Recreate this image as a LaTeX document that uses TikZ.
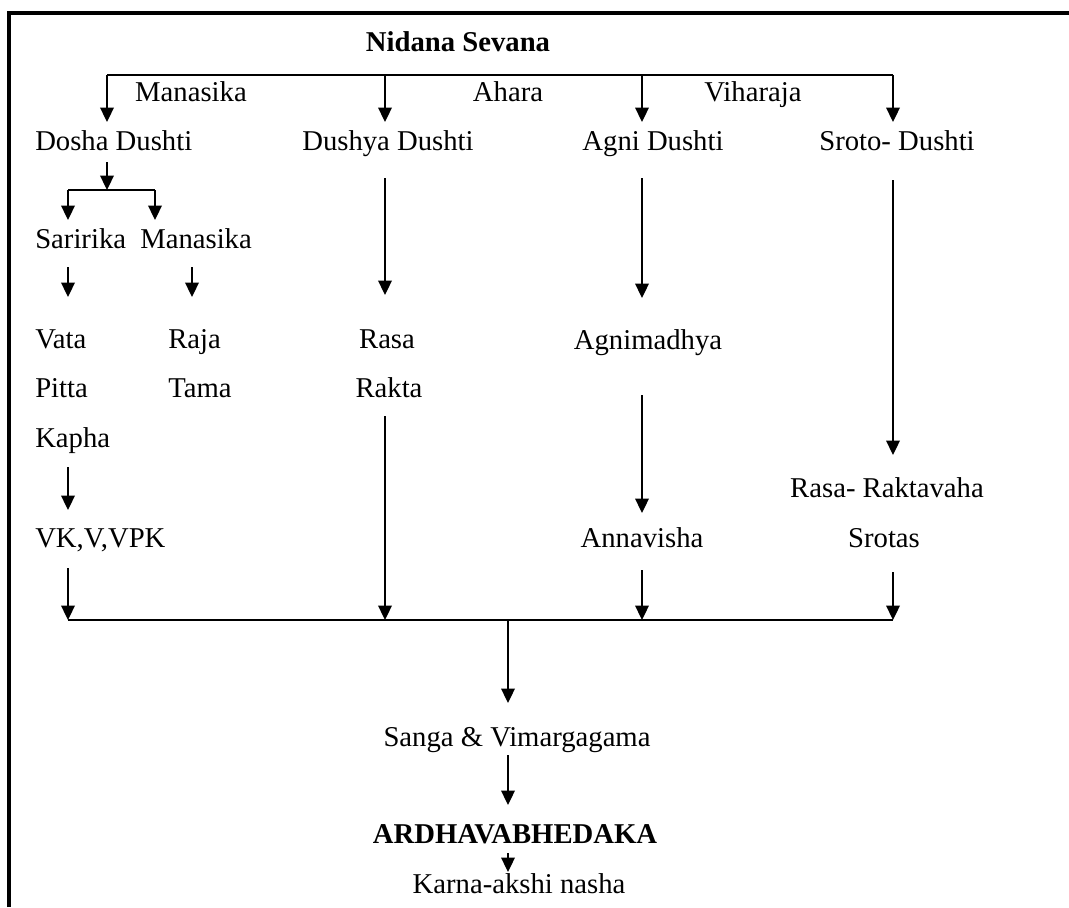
\documentclass[tikz,border=0pt]{standalone}
\usepackage{fontspec}
\setmainfont{Liberation Serif}
\usetikzlibrary{arrows.meta,calc}

\begin{document}
\begin{tikzpicture}[
  x=0.025cm, y=-0.025cm,
  lbl/.style={inner sep=0pt, anchor=base, font=\fontsize{20.4}{24}\selectfont},
  lblw/.style={lbl, anchor=base west},
  head/.style={lbl, font=\fontsize{20.4}{24}\selectfont\bfseries},
  line/.style={line width=1.1pt},
  arrow/.style={line, -{Triangle[length=3.6mm,width=3.4mm]}}
]
\useasboundingbox (0,0) rectangle (1069,907);
\draw[line width=2.2pt] (9,907) -- (9,13) -- (1069,13);

\coordinate (c1) at (107,0);
\coordinate (c2) at (385,0);
\coordinate (c3) at (642,0);
\coordinate (c4) at (893,0);
\coordinate (c5) at (508,0);
\coordinate (cm) at (192,0);
\coordinate (tl) at (107,75);
\coordinate (tr) at (893,75);
\coordinate (subl) at (68,190);
\coordinate (subr) at (155,190);
\coordinate (bl) at (68,620);
\coordinate (br) at (893,620);

\node[head] (nidana) at (458,52) {Nidana Sevana};
\node[lbl] (lman) at (191,101) {Manasika};
\node[lbl] (lahara) at (508,101) {Ahara};
\node[lbl] (lvihar) at (753,101) {Viharaja};

\node[lblw] (dosha) at (35,150) {Dosha Dushti};
\node[lbl] (dushya) at (388,150) {Dushya Dushti};
\node[lbl] (agni) at (653,150) {Agni Dushti};
\node[lbl] (sroto) at (897,150) {Sroto- Dushti};

\node[lblw] (sarir) at (35,248) {Saririka};
\node[lblw] (manas) at (140,248) {Manasika};
\node[lblw] (vata) at (35,348) {Vata};
\node[lblw] (raja) at (168,348) {Raja};
\node[lblw] (pitta) at (35,397) {Pitta};
\node[lblw] (tama) at (168,397) {Tama};
\node[lblw] (kapha) at (35,447) {Kapha};
\node[lblw] (vk) at (35,547) {VK,V,VPK};

\node[lbl] (rasa) at (387,348) {Rasa};
\node[lbl] (rakta) at (389,397) {Rakta};
\node[lbl] (agnim) at (648,349) {Agnimadhya};
\node[lbl] (anna) at (642,547) {Annavisha};
\node[lbl] (rrv) at (887,497) {Rasa- Raktavaha};
\node[lbl] (srotas) at (884,547) {Srotas};

\node[lbl] (sanga) at (517,746) {Sanga \& Vimargagama};
\node[head] (ardha) at (515,843) {ARDHAVABHEDAKA};
\node[lbl] (karna) at (519,893) {Karna-akshi nasha};

\draw[line] (tl) -- (tr);
\draw[arrow] (tl) -- ($(dosha.base -| c1)+(0,-28)$);
\draw[arrow] (tl -| c2) -- ($(dushya.base -| c2)+(0,-28)$);
\draw[arrow] (tl -| c3) -- ($(agni.base -| c3)+(0,-28)$);
\draw[arrow] (tr) -- ($(sroto.base -| c4)+(0,-28)$);

\draw[arrow] ($(dosha.base -| c1)+(0,12)$) -- (subl -| c1);
\draw[line] (subl) -- (subr);
\draw[arrow] (subl) -- ($(sarir.base -| subl)+(0,-28)$);
\draw[arrow] (subr) -- ($(manas.base -| subr)+(0,-28)$);
\draw[arrow] ($(sarir.base -| subl)+(0,19)$) -- ($(vata.base -| subl)+(0,-51)$);
\draw[arrow] ($(manas.base -| cm)+(0,19)$) -- ($(raja.base -| cm)+(0,-51)$);
\draw[arrow] ($(kapha.base -| subl)+(0,20)$) -- ($(vk.base -| subl)+(0,-37)$);
\draw[arrow] ($(vk.base -| bl)+(0,21)$) -- (bl);

\draw[arrow] ($(dushya.base -| c2)+(0,28)$) -- ($(rasa.base -| c2)+(0,-53)$);
\draw[arrow] ($(rakta.base -| c2)+(0,19)$) -- (bl -| c2);

\draw[arrow] ($(agni.base -| c3)+(0,28)$) -- ($(agnim.base -| c3)+(0,-51)$);
\draw[arrow] ($(agnim.base -| c3)+(0,46)$) -- ($(anna.base -| c3)+(0,-34)$);
\draw[arrow] ($(anna.base -| c3)+(0,23)$) -- (bl -| c3);

\draw[arrow] ($(sroto.base -| c4)+(0,30)$) -- ($(rrv.base -| c4)+(0,-42)$);
\draw[arrow] ($(srotas.base -| c4)+(0,25)$) -- (br);

\draw[line] (bl) -- (br);
\draw[arrow] (bl -| c5) -- ($(sanga.base -| c5)+(0,-43)$);
\draw[arrow] ($(sanga.base -| c5)+(0,9)$) -- ($(ardha.base -| c5)+(0,-38)$);
\draw[arrow] ($(ardha.base -| c5)+(0,10)$) -- ($(karna.base -| c5)+(0,-21)$);
\end{tikzpicture}
\end{document}
